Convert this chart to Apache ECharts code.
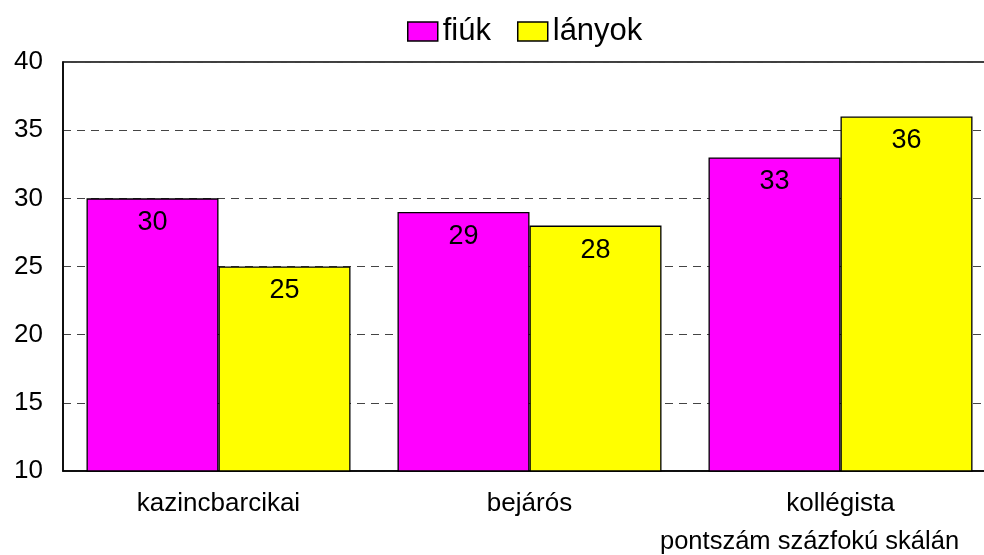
<!DOCTYPE html>
<html>
<head>
<meta charset="utf-8">
<script src="https://cdn.jsdelivr.net/npm/echarts@6/dist/echarts.min.js"></script>
<style>
  html, body { margin: 0; padding: 0; background: #fff; }
  #chart { width: 984px; height: 555px; }
</style>
</head>
<body>
<div id="chart"></div>
<script>
const categories = ['kazincbarcikai', 'bejárós', 'kollégista'];
const seriesNames = ['fiúk', 'lányok'];
const boys = [30, 29, 33];
const girls = [25, 28, 36];
const yTicks = [10, 15, 20, 25, 30, 35, 40];
const note = 'pontszám százfokú skálán';

const font = 'Liberation Sans, Arial, sans-serif';
const chart = echarts.init(document.getElementById('chart'));

const label = {
  show: true,
  position: 'insideTop',
  distance: 11,
  color: '#000',
  fontSize: 27,
  fontFamily: font
};

chart.setOption({
  animation: false,
  color: ['#ff00ff', '#ffff00'],
  grid: {
    left: 63,
    top: 62,
    width: 933,
    height: 409,
    outerBoundsMode: 'none',
    containLabel: false,
    show: true,
    borderColor: '#000',
    borderWidth: 1.5
  },
  legend: {
    left: 402,
    top: 11,
    itemWidth: 30,
    itemHeight: 19,
    itemGap: 26,
    icon: 'rect',
    itemStyle: { borderColor: '#000', borderWidth: 1.5 },
    textStyle: { fontSize: 31, fontFamily: font, color: '#000' },
    data: seriesNames
  },
  xAxis: {
    type: 'category',
    data: categories,
    axisTick: { show: false },
    axisLine: { lineStyle: { color: '#000', width: 1.5 } },
    axisLabel: { color: '#000', fontSize: 26, fontFamily: font, margin: 20 }
  },
  yAxis: {
    type: 'value',
    min: yTicks[0],
    max: yTicks[yTicks.length - 1],
    interval: 5,
    axisLine: { show: true, lineStyle: { color: '#000', width: 1.5 } },
    axisTick: { show: false },
    axisLabel: { color: '#000', fontSize: 26, fontFamily: font, margin: 20 },
    splitLine: { lineStyle: { color: '#444', type: [8, 6], width: 1.2 } }
  },
  series: [
    {
      name: seriesNames[0],
      type: 'bar',
      data: boys,
      barWidth: 132,
      barGap: '0%',
      itemStyle: { borderColor: '#000', borderWidth: 1.3 },
      label: label
    },
    {
      name: seriesNames[1],
      type: 'bar',
      data: girls,
      barWidth: 132,
      barGap: '0%',
      itemStyle: { borderColor: '#000', borderWidth: 1.3 },
      label: label
    }
  ],
  graphic: [{
    type: 'text',
    left: 660,
    top: 529,
    style: { text: note, fontSize: 25.5, fontFamily: font, fill: '#000' }
  }]
});
</script>
</body>
</html>
